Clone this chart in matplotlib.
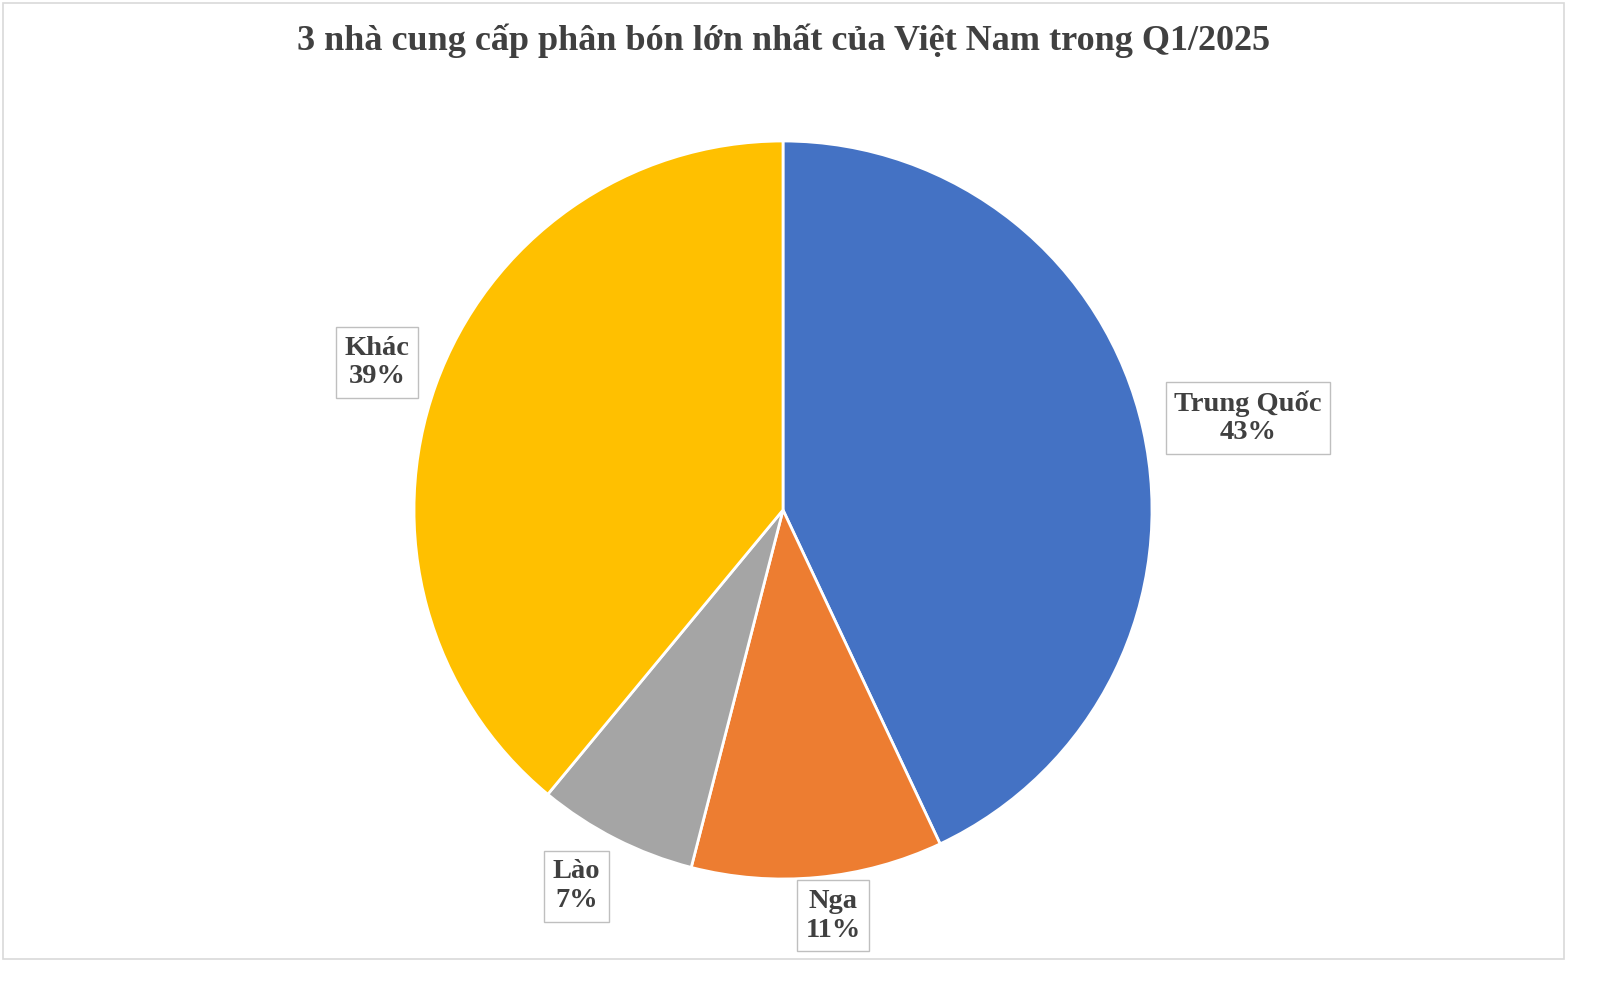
import matplotlib.pyplot as plt
from matplotlib.patches import Rectangle

countries = ['Trung Quốc', 'Nga', 'Lào', 'Khác']
shares = [43, 11, 7, 39]
colors = ['#4472C4', '#ED7D31', '#A5A5A5', '#FFC000']
label_pos = [(1.26, 0.25), (0.136, -1.10), (-0.56, -1.02), (-1.10, 0.40)]

plt.rcParams['font.family'] = ['Liberation Serif', 'DejaVu Serif']

fig = plt.figure(figsize=(16.02, 9.81), dpi=100)
fig.patches.append(Rectangle((0.002, 0.022), 0.974, 0.975, transform=fig.transFigure,
                             fill=False, edgecolor='#D9D9D9', linewidth=1.2))
fig.text(0.489, 0.958, '3 nhà cung cấp phân bón lớn nhất của Việt Nam trong Q1/2025',
         ha='center', va='center', fontsize=26, fontweight='bold', color='#404040')

ax = fig.add_axes([(783 - 369) / 1602, (981 - 879) / 981, 738 / 1602, 738 / 981])
ax.pie(shares, colors=colors, startangle=90, counterclock=False,
       wedgeprops=dict(edgecolor='white', linewidth=2), radius=1)
ax.set_xlim(-1, 1)
ax.set_ylim(-1, 1)
ax.set_aspect('equal')
ax.axis('off')

for name, val, (x, y) in zip(countries, shares, label_pos):
    ax.text(x, y, f'{name}\n{val}%', ha='center', va='center', fontsize=20.5,
            fontweight='bold', color='#404040', linespacing=1.2, clip_on=False,
            bbox=dict(boxstyle='square,pad=0.3', facecolor='white', edgecolor='#BFBFBF'))

fig.savefig('out.png', dpi=100)
